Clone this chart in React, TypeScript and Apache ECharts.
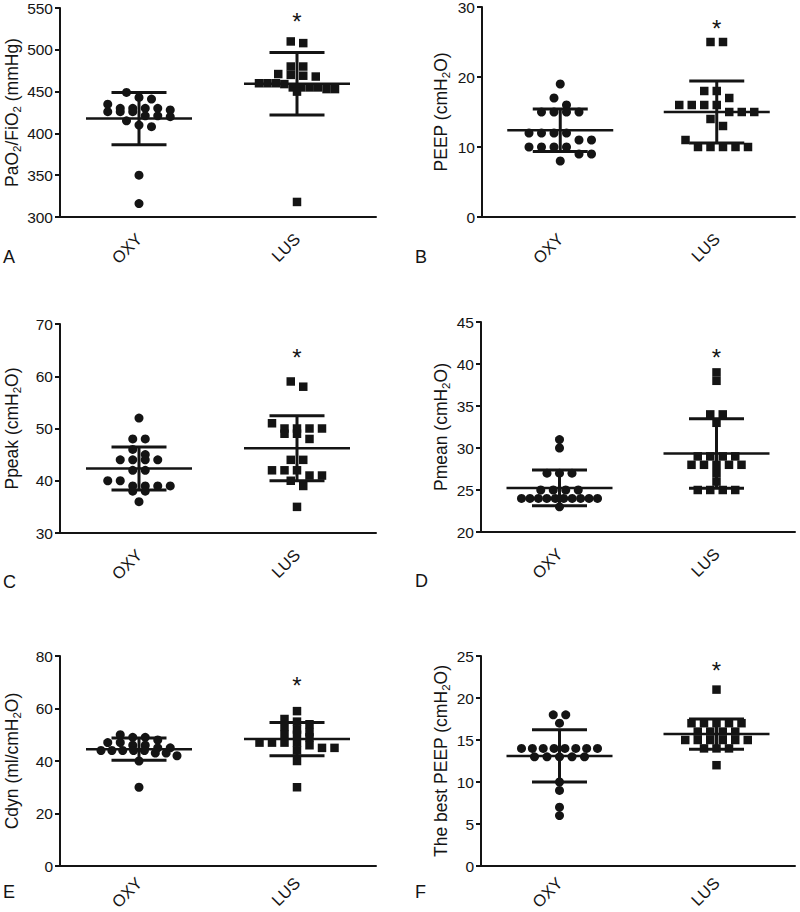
import React, { useEffect, useRef } from "react";
import * as echarts from "echarts";

// ---------- data ----------
const groups = ["OXY", "LUS"];
const panelLetters = ["A", "B", "C", "D", "E", "F"];

const yNames = [
  "PaO{sub|2}/FiO{sub|2} (mmHg)",
  "PEEP (cmH{sub|2}O)",
  "Ppeak (cmH{sub|2}O)",
  "Pmean (cmH{sub|2}O)",
  "Cdyn (ml/cmH{sub|2}O)",
  "The best PEEP (cmH{sub|2}O)",
];
const yMin = [300, 0, 30, 20, 0, 0];
const yMax = [550, 30, 70, 45, 80, 25];
const yStep = [50, 10, 10, 5, 20, 5];
// level (in axis units) of the significance asterisk above LUS
const starLevel = [540, 27.6, 64.5, 41.4, 70.5, 23.9];

const pafOxy = [449, 443, 441, 435, 430, 430, 430, 430, 428, 426, 426, 426, 421, 421, 420, 415, 410, 408, 350, 316];
const pafLus = [510, 508, 480, 480, 471, 470, 469, 468, 460, 460, 460, 459, 455, 455, 455, 455, 453, 453, 450, 318];
const peepOxy = [19, 17, 16, 15, 15, 15, 15, 12, 12, 12, 12, 11, 11, 10, 10, 10, 10, 9, 9, 8];
const peepLus = [25, 25, 18, 18, 17, 16, 16, 16, 16, 15, 15, 15, 14, 13, 11, 10, 10, 10, 10, 10];
const ppeakOxy = [52, 48, 48, 46, 45, 44, 44, 44, 44, 42, 42, 40, 40, 39, 39, 39, 39, 38, 38, 36];
const ppeakLus = [59, 58, 51, 50, 50, 50, 50, 49, 49, 48, 44, 44, 42, 42, 42, 41, 41, 40, 39, 35];
const pmeanOxy = [31, 30, 27, 27, 27, 25, 25, 25, 25, 24, 24, 24, 24, 24, 24, 24, 24, 24, 24, 23];
const pmeanLus = [39, 38, 34, 34, 33, 29, 29, 29, 29, 28, 28, 28, 28, 28, 27, 26, 25, 25, 25, 25];
const cdynOxy = [50, 49, 49, 48, 47, 47, 46, 46, 45, 45, 44, 44, 44, 44, 44, 43, 43, 42, 40, 30];
const cdynLus = [59, 56, 55, 54, 53, 52, 51, 50, 50, 49, 47, 47, 47, 47, 46, 45, 45, 44, 40, 30];
const bestOxy = [18, 18, 17, 14, 14, 14, 14, 14, 14, 14, 14, 13, 13, 13, 13, 13, 10, 9, 7, 6];
const bestLus = [21, 17, 17, 17, 17, 17, 16, 16, 16, 16, 15, 15, 15, 15, 15, 15, 14, 14, 14, 12];

const oxyValues = [pafOxy, peepOxy, ppeakOxy, pmeanOxy, cdynOxy, bestOxy];
const lusValues = [pafLus, peepLus, ppeakLus, pmeanLus, cdynLus, bestLus];

// ---------- layout / style ----------
const FONT = 'Arial, "Liberation Sans", Helvetica, sans-serif';
const INK = "#141414";
const grids = [
  { left: 60, top: 8, width: 316, height: 209 },
  { left: 482, top: 7, width: 313, height: 210 },
  { left: 60, top: 324, width: 316, height: 209 },
  { left: 481, top: 322, width: 314, height: 210 },
  { left: 60, top: 656, width: 316, height: 210 },
  { left: 481, top: 656, width: 314, height: 210 },
];
const nameGaps = [37, 31, 38, 30, 38, 30];
const xLabelMargins = [19, 19, 19, 19, 14, 14];
const letterPos = [
  [3, 248],
  [415, 248],
  [3, 573],
  [415, 572],
  [3, 883],
  [415, 883],
];
const SLOT = 12.5;
const MAX_ROW = 76;
const ROW_TOL = 7;
const MEAN_HALF = 53;
const CAP_HALF = 27.5;

const mean = (a: number[]) => a.reduce((s, v) => s + v, 0) / a.length;
const sd = (a: number[]) => {
  const m = mean(a);
  return Math.sqrt(a.reduce((s, v) => s + (v - m) * (v - m), 0) / (a.length - 1));
};

// Prism-like row layout: nearby values share a row, centred on the group
function swarm(values: number[], lo: number, hi: number, h: number): number[] {
  const ppu = h / (hi - lo);
  const order = values.map((_, i) => i).sort((a, b) => values[b] - values[a]);
  const off = new Array(values.length).fill(0);
  let row: number[] = [];
  let start = 0;
  const flush = () => {
    const n = row.length;
    const step = n > 1 ? Math.min(SLOT, MAX_ROW / (n - 1)) : 0;
    row.forEach((idx, k) => (off[idx] = (k - (n - 1) / 2) * step));
    row = [];
  };
  for (const i of order) {
    const py = values[i] * ppu;
    if (row.length && start - py > ROW_TOL + 1e-6) flush();
    if (!row.length) start = py;
    row.push(i);
  }
  flush();
  return off;
}

function buildOption() {
  const xAxis: any[] = [];
  const yAxis: any[] = [];
  const series: any[] = [];
  grids.forEach((g, p) => {
    xAxis.push({
      gridIndex: p,
      type: "category",
      data: groups,
      boundaryGap: true,
      axisLine: { lineStyle: { color: INK, width: 2 } },
      axisTick: { alignWithLabel: true, length: 6, lineStyle: { color: INK, width: 2 } },
      axisLabel: { rotate: 45, fontSize: 16.5, color: INK, fontFamily: FONT, margin: xLabelMargins[p] },
      splitLine: { show: false },
    });
    yAxis.push({
      gridIndex: p,
      type: "value",
      min: yMin[p],
      max: yMax[p],
      interval: yStep[p],
      axisLine: { show: true, lineStyle: { color: INK, width: 2 } },
      axisTick: { show: true, length: 5, lineStyle: { color: INK, width: 2 } },
      axisLabel: { fontSize: 15.5, color: INK, fontFamily: FONT, margin: 7 },
      splitLine: { show: false },
      name: yNames[p],
      nameLocation: "middle",
      nameRotate: 90,
      nameGap: nameGaps[p],
      nameTextStyle: {
        fontSize: 17.5,
        color: INK,
        fontFamily: FONT,
        lineHeight: 20,
        rich: {
          sub: { fontSize: 11.5, fontFamily: FONT, color: INK, lineHeight: 12, verticalAlign: "top", padding: [9, 0, 0, 0] },
        },
      },
    });
    const sets = [oxyValues[p], lusValues[p]];
    sets.forEach((vals, gi) => {
      const off = swarm(vals, yMin[p], yMax[p], g.height);
      series.push({
        type: "scatter",
        xAxisIndex: p,
        yAxisIndex: p,
        symbol: gi === 0 ? "circle" : "rect",
        symbolSize: gi === 0 ? 9 : 8.5,
        itemStyle: { color: INK, opacity: 1 },
        z: 2,
        data: vals.map((v, i) => ({ value: [gi, v], symbolOffset: [off[i], 0] })),
      });
    });
    series.push({
      type: "custom",
      xAxisIndex: p,
      yAxisIndex: p,
      z: 3,
      encode: { x: 0, y: 1 },
      data: sets.map((vals, gi) => [gi, mean(vals), sd(vals)]),
      renderItem: (params: any, api: any) => {
        const x = api.value(0);
        const m = api.value(1);
        const s = api.value(2);
        const c = api.coord([x, m]);
        const t = api.coord([x, m + s]);
        const b = api.coord([x, m - s]);
        const st = { stroke: INK, lineWidth: 3 };
        return {
          type: "group",
          children: [
            { type: "line", shape: { x1: c[0] - MEAN_HALF, y1: c[1], x2: c[0] + MEAN_HALF, y2: c[1] }, style: { stroke: INK, lineWidth: 2.5 } },
            { type: "line", shape: { x1: c[0], y1: t[1], x2: c[0], y2: b[1] }, style: st },
            { type: "line", shape: { x1: c[0] - CAP_HALF, y1: t[1], x2: c[0] + CAP_HALF, y2: t[1] }, style: st },
            { type: "line", shape: { x1: c[0] - CAP_HALF, y1: b[1], x2: c[0] + CAP_HALF, y2: b[1] }, style: st },
          ],
        };
      },
    });
    series.push({
      type: "scatter",
      xAxisIndex: p,
      yAxisIndex: p,
      symbolSize: 0,
      silent: true,
      itemStyle: { opacity: 1, color: INK },
      data: [[1, starLevel[p]]],
      label: {
        show: true,
        position: "inside",
        formatter: "*",
        fontSize: 24,
        color: INK,
        fontFamily: FONT,
        offset: [0, 5],
      },
    });
  });

  return {
    animation: false,
    backgroundColor: "#ffffff",
    grid: grids.map((g) => ({ ...g, containLabel: false, outerBoundsMode: "none" })),
    xAxis,
    yAxis,
    series,
    graphic: panelLetters.map((L, i) => ({
      type: "text",
      left: letterPos[i][0],
      top: letterPos[i][1],
      style: { text: L, fontSize: 18, fontFamily: FONT, fill: INK },
    })),
  };
}

export default function App() {
  const ref = useRef<HTMLDivElement>(null);
  useEffect(() => {
    if (!ref.current) return;
    const chart = echarts.init(ref.current, undefined, { renderer: "svg" });
    chart.setOption(buildOption() as any);
    return () => chart.dispose();
  }, []);
  return (
    <div
      ref={ref}
      style={{ position: "absolute", left: 0, top: 0, width: 800, height: 912, background: "#fff" }}
    />
  );
}
